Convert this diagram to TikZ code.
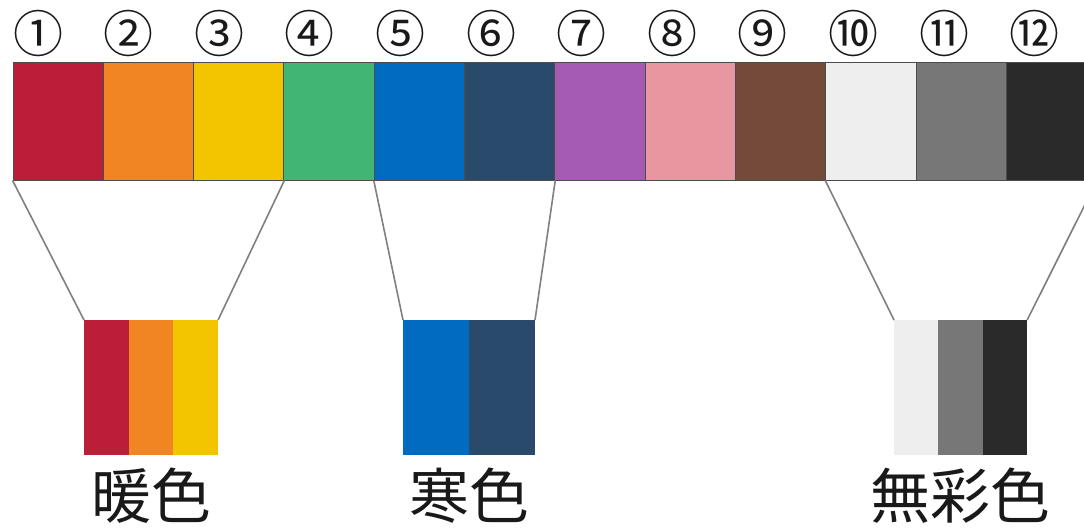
\documentclass[tikz,border=0pt]{standalone}
\usepackage{fontspec}
\newfontfamily\jpfont{Noto Sans CJK JP}
\definecolor{cred}{HTML}{BA1E39}
\definecolor{corange}{HTML}{F08522}
\definecolor{cyellow}{HTML}{F2C500}
\definecolor{cgreen}{HTML}{41B574}
\definecolor{cblue}{HTML}{006BC1}
\definecolor{cnavy}{HTML}{2A4A6C}
\definecolor{cpurple}{HTML}{A55BB1}
\definecolor{cpink}{HTML}{E897A0}
\definecolor{cbrown}{HTML}{744B3B}
\definecolor{clight}{HTML}{EEEEEE}
\definecolor{cgray}{HTML}{777777}
\definecolor{cblack}{HTML}{2A2A2A}
\begin{document}
\begin{tikzpicture}[x=1pt,y=-1pt,
  swatch/.style={draw=black!70,line width=0.9pt,inner sep=0pt,minimum width=90.3pt,minimum height=118pt},
  stripe/.style={inner sep=0pt,outer sep=0pt,minimum height=135pt},
  link/.style={draw=black!50,line width=1.6pt},
  num/.style={font=\jpfont\fontsize{50}{50}\selectfont,text=black!90},
  label/.style={font=\jpfont\fontsize{60}{64}\selectfont,text=black!90}]
\useasboundingbox[fill=white] (0,0) rectangle (1084,528);
\foreach \c/\n [count=\i] in {cred/①,corange/②,cyellow/③,cgreen/④,cblue/⑤,cnavy/⑥,cpurple/⑦,cpink/⑧,cbrown/⑨,clight/⑩,cgray/⑪,cblack/⑫} {
  \node[swatch,fill=\c] (s\i) at ({13+90.3*(\i-0.5)},121) {};
  \node[num] (n\i) at ({38+90.6*(\i-1)},33) {\n};
}
\foreach \c [count=\i] in {cred,corange,cyellow}
  \node[stripe,fill=\c,minimum width=44.7pt] (w\i) at ({84+44.7*(\i-0.5)},387.5) {};
\foreach \c [count=\i] in {cblue,cnavy}
  \node[stripe,fill=\c,minimum width=66pt] (c\i) at ({403+66*(\i-0.5)},387.5) {};
\foreach \c [count=\i] in {clight,cgray,cblack}
  \node[stripe,fill=\c,minimum width=44.4pt] (a\i) at ({894+44.4*(\i-0.5)},387.5) {};
\draw[link] (s1.south west) -- (w1.north west);
\draw[link] (s3.south east) -- (w3.north east);
\draw[link] (s5.south west) -- (c1.north west);
\draw[link] (s6.south east) -- (c2.north east);
\draw[link] (s10.south west) -- (a1.north west);
\draw[link] (s12.south east) -- (a3.north east);
\node[label] (warm) at (151,496) {暖色};
\node[label] (cool) at (469,496) {寒色};
\node[label] (achro) at (960,496) {無彩色};
\end{tikzpicture}
\end{document}
